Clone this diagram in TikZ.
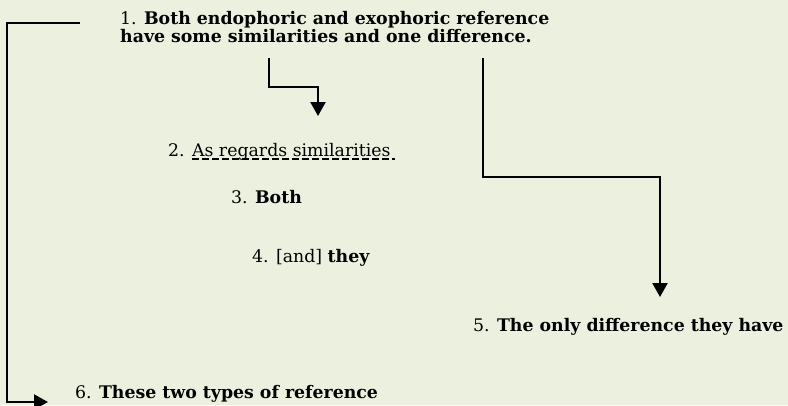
\documentclass[tikz,border=0pt]{standalone}
\usepackage{fontspec}
\setmainfont{DejaVu Serif}
\usetikzlibrary{positioning}
\usetikzlibrary{arrows.meta}
\definecolor{paleleaf}{HTML}{EBF1DE}

\begin{document}
\begin{tikzpicture}[x=1bp,y=-1bp,
txt/.style ={inner sep=0pt, anchor=base west, font=\fontsize{17.4}{18}\selectfont},
link/.style ={line width=2.2bp},
arr/.style ={link, -{Triangle[width=15bp,length=14bp]}}
]
%background of the page
\fill[paleleaf] (0,0) rectangle (788,405);
\useasboundingbox (0,0) rectangle (788,405);
%the six statements
\path (120,42) node[txt, align=left] (one) {1. \textbf{Both endophoric and exophoric reference}\\\textbf{have some similarities and one difference.}}
(168,156) node[txt] (two) {2. As regards similarities}
(231,203) node[txt] (three) {3. \textbf{Both}}
(252,262) node[txt] (four) {4. [and] \textbf{they}}
(473,331) node[txt] (five) {5. \textbf{The only difference they have}}
(75,398) node[txt] (six) {6. \textbf{These two types of reference}};
%dashed underline of 2
\draw[line width=1.1bp, dash pattern=on 7bp off 3bp] (192,159) coordinate (u1) -- (395,159) coordinate (u2);
%1 to 6, round the left side
\draw (80,23) coordinate (a1);
\draw (48,402) coordinate (a2);
\draw[arr] (a1) -- (7,23) -- (7,402) -- (a2);
%1 to 2
\draw (269,58) coordinate (b1);
\draw (318,116) coordinate (b2);
\draw[arr] (b1) -- (269,87) -| (b2);
%1 to 5
\draw (483,58) coordinate (c1);
\draw (660,297) coordinate (c2);
\draw[arr] (c1) -- (483,177) -| (c2);
\end{tikzpicture}
\end{document}
